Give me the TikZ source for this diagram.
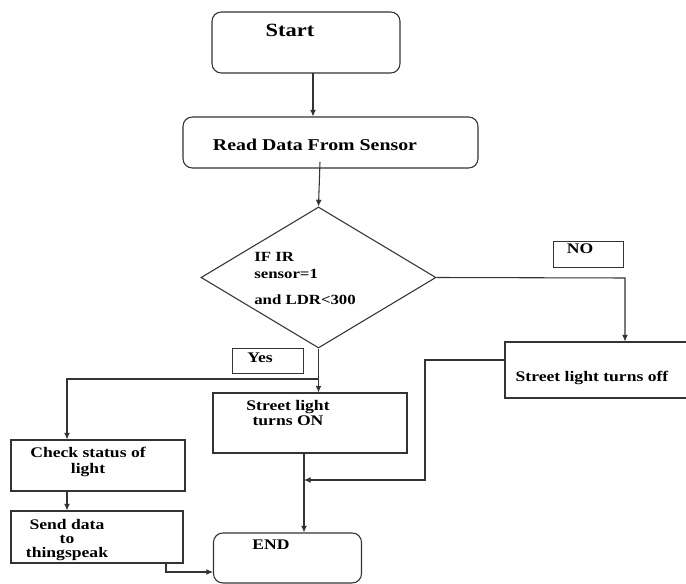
\documentclass[tikz,border=0pt]{standalone}
\usepackage{fontspec}
\setmainfont{Liberation Serif}[FakeStretch=1.2]
\usetikzlibrary{arrows.meta,positioning,shapes.geometric}

\begin{document}
\begin{tikzpicture}[x=0.75pt, y=-0.75pt,
  box/.style={rectangle, draw=black!80, line width=0.8pt, inner sep=0pt},
  rbox/.style={box, rounded corners=7pt},
  decision/.style={diamond, draw=black!80, line width=0.8pt, inner sep=0pt, minimum width=176.25pt, minimum height=105.75pt},
  tagbox/.style={box, minimum width=53pt, minimum height=19pt},
  txt/.style={inner sep=0pt, align=center, font=\fontsize{11}{12}\selectfont\bfseries},
  arr/.style={-{Latex[length=5pt,width=4.5pt]}, line width=0.8pt, black!80},
  ln/.style={line width=0.8pt, black!80}]
  \useasboundingbox (0,0) rectangle (686,584);
  % boxes
  \node[rbox, minimum width=141pt, minimum height=45.75pt] (start) at (306,42.5) {};
  \node[rbox, minimum width=221.25pt, minimum height=38.25pt] (read) at (330.5,142.5) {};
  \node[decision] (cond) at (318.5,277.5) {};
  \node[tagbox] (nobox) at (588.5,254.5) {};
  \node[box, minimum width=141pt, minimum height=42pt] (off) at (599,370) {};
  \node[tagbox] (yesbox) at (268,361) {};
  \node[box, minimum width=145.5pt, minimum height=45pt] (on) at (310,423) {};
  \node[box, minimum width=130.5pt, minimum height=38.25pt] (check) at (98,465.5) {};
  \node[box, minimum width=129pt, minimum height=39pt] (send) at (97,537) {};
  \node[rbox, minimum width=111pt, minimum height=37.5pt] (endbox) at (287.5,558) {};
  % texts
  \node[txt, font=\fontsize{14}{15}\selectfont\bfseries] (starttxt) at (290,30) {Start};
  \node[txt, font=\fontsize{12.4}{14}\selectfont\bfseries] (readtxt) at (315,145) {Read Data From Sensor};
  \node[txt, align=left, anchor=north west, font=\fontsize{10.5}{12.75}\selectfont\bfseries] (condtxt) at (254,252) {IF IR\\sensor=1\\[6.5pt]and LDR<300};
  \node[txt] (notxt) at (580,249) {NO};
  \node[txt] (offtxt) at (592,378) {Street light turns off};
  \node[txt] (yestxt) at (260,358) {Yes};
  \node[txt, font=\fontsize{11}{9.5}\selectfont\bfseries] (ontxt) at (288,413) {Street light\\turns ON};
  \node[txt] (checktxt) at (88,462) {Check status of\\light};
  \node[txt, font=\fontsize{11}{10.5}\selectfont\bfseries] (sendtxt) at (67,540) {Send data\\to\\thingspeak};
  \node[txt] (endtxt) at (271,545) {END};
  % turning points
  \coordinate (startdown) at (313,73);
  \coordinate (readdown) at (320,162);
  \coordinate (nocorner) at (625,278);
  \coordinate (offjoin) at (425,360);
  \coordinate (mergept) at (304,480);
  \coordinate (yesturn) at (67,379);
  \coordinate (sendturn) at (166,572);
  % connectors
  \draw[arr] (startdown) -- (startdown |- read.north);
  \draw[arr] (readdown) -- (cond.north);
  \draw[arr] (cond.east) -- (nocorner) -- (nocorner |- off.north);
  \draw[arr] (cond.south) -- (cond.south |- on.north);
  \draw[arr] (cond.south |- yesturn) -- (yesturn) -- (yesturn |- check.north);
  \draw[arr] (offjoin -| off.west) -- (offjoin) -- (offjoin |- mergept) -- (mergept);
  \draw[arr] (mergept |- on.south) -- (mergept |- endbox.north);
  \draw[arr] (yesturn |- check.south) -- (yesturn |- send.north);
  \draw[arr] (sendturn |- send.south) -- (sendturn) -- (sendturn -| endbox.west);
\end{tikzpicture}
\end{document}
